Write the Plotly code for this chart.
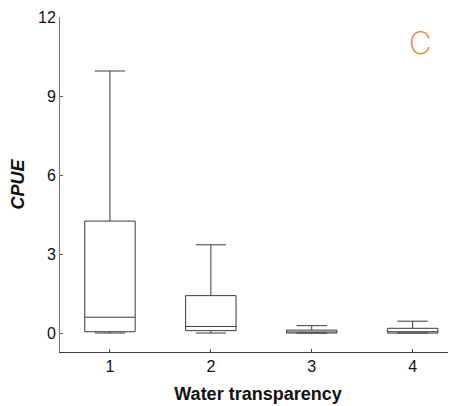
import plotly.graph_objects as go

categories = [1, 2, 3, 4]
lower_whisker = [0.0, 0.0, 0.0, 0.0]
q1_vals = [0.05, 0.09, 0.0, 0.0]
median_vals = [0.6, 0.25, 0.04, 0.05]
q3_vals = [4.25, 1.42, 0.11, 0.18]
upper_whisker = [9.95, 3.35, 0.28, 0.45]
y_ticks = [0, 3, 6, 9, 12]

fig = go.Figure()
fig.add_trace(go.Box(
    x=categories,
    q1=q1_vals, median=median_vals, q3=q3_vals,
    lowerfence=lower_whisker, upperfence=upper_whisker,
    fillcolor="rgba(255,255,255,0)",
    line=dict(color="#3a3a3a", width=1),
    width=0.5,
    whiskerwidth=0.6,
    boxpoints=False,
    hoverinfo="skip",
))

font_family = "Liberation Sans, Arial, sans-serif"
# page body has an 8px default margin; compensate
W, H = 448, 398
L, R, T, B = 52, 0, 9, 54
fig.update_layout(
    width=W, height=H,
    margin=dict(l=L, r=R, t=T, b=B, autoexpand=False),
    plot_bgcolor="white", paper_bgcolor="white",
    showlegend=False,
    font=dict(family=font_family, size=16, color="#111"),
    xaxis=dict(
        range=[0.505, 4.43],
        tickvals=categories, ticktext=[str(c) for c in categories],
        ticks="inside", ticklen=3, tickcolor="#444",
        showline=True, linecolor="#444", linewidth=1,
        showgrid=False, zeroline=False, automargin=False,
        title=dict(text="<b>Water transparency</b>", font=dict(size=18, family=font_family), standoff=13),
    ),
    yaxis=dict(
        range=[-0.72, 12],
        tickvals=y_ticks, ticktext=[str(v) for v in y_ticks],
        ticks="inside", ticklen=3, tickcolor="#666",
        showline=True, linecolor="#777", linewidth=1,
        showgrid=False, zeroline=False, automargin=False,
        title=dict(text="<b><i>CPUE</i></b>", font=dict(size=18, family=font_family), standoff=8),
    ),
    annotations=[dict(
        x=(420 - 8 - L) / (W - L - R), y=1 - (42 - 8 - T) / (H - T - B),
        xref="paper", yref="paper", text="C", showarrow=False,
        xanchor="center", yanchor="middle",
        font=dict(size=31, color="#f08030", family="Inter, Lato, sans-serif", weight=200),
    )],
)

fig.write_html("out.html")
